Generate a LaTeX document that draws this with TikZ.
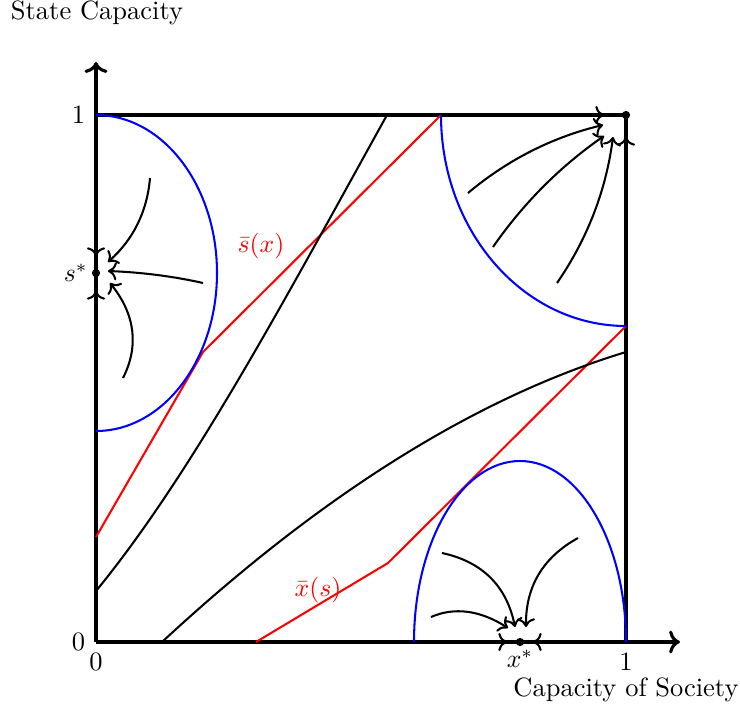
\documentclass[tikz,border=0pt]{standalone}
\usetikzlibrary{arrows.meta}
\begin{document}
\begin{tikzpicture}[x=0.389pt,y=0.389pt,
  font=\fontsize{10.3pt}{12.4pt}\selectfont,
  axisline/.style={very thick},
  curveline/.style={thick},
  flow/.style={thick,->},
  redline/.style={thick,red},
  blueline/.style={thick,blue},
  dotmark/.style={fill=black},
  lbl/.style={inner sep=2pt}]
\useasboundingbox (0,0) rectangle (740,713);
% key points
\coordinate (O) at (96,71);
\coordinate (Ytop) at (96,651);
\coordinate (Xend) at (680,71);
\coordinate (Y1) at (96,598);
\coordinate (X1) at (626,71);
\coordinate (C11) at (626,598);
\coordinate (Sstar) at (96,440);
\coordinate (Xstar) at (520,71);
% axes and box
\draw[axisline,->] (O) -- (Ytop);
\draw[axisline,->] (O) -- (Xend);
\draw[axisline] (Y1) -- (C11) -- (X1);
% red lines
\draw[redline] (96,176) -- (203,361) -- (441,598);
\draw[redline] (256,71) -- (388,150) -- (626,387);
% black curves
\draw[curveline] (96,122) .. controls (192,239) and (285,414) .. (387,598);
\draw[curveline] (162,71) .. controls (321.5,218.8) and (476.2,315.5) .. (626,361);
% blue arcs
\draw[blueline] (Y1) arc[start angle=90,end angle=-90,x radius=121,y radius=158];
\draw[blueline] (441,598) arc[start angle=180,end angle=270,x radius=185,y radius=211];
\draw[blueline] (414,71) arc[start angle=180,end angle=0,x radius=106,y radius=181];
% arrow tips on axes
\draw[flow] (96,475) -- (96,457);
\draw[flow] (96,405) -- (96,422);
\draw[flow] (585,598) -- (604,598);
\draw[flow] (626,558) -- (626,576);
\draw[flow] (490,71) -- (507,71);
\draw[flow] (550,71) -- (533,71);
% flow arrows top right
\draw[flow] (468,520) .. controls (507.7,553.3) and (552.7,576) .. (603,588);
\draw[flow] (493,466) .. controls (523.3,509.7) and (560.3,546.7) .. (604,577);
\draw[flow] (557,430) .. controls (587.4,474.1) and (606.1,522.8) .. (613,576);
% flow arrows left
\draw[flow] (150,535) .. controls (147.2,501.4) and (133.2,473.4) .. (108,451);
\draw[flow] (203,430) .. controls (173.3,436.7) and (141.7,440.7) .. (108,442);
\draw[flow] (123,335) .. controls (139.3,367.3) and (135,399) .. (110,430);
% flow arrows bottom
\draw[flow] (442,160) .. controls (482.5,151.3) and (506.8,126.7) .. (515,86);
\draw[flow] (431,96) .. controls (454.7,106.3) and (480.3,102.7) .. (508,85);
\draw[flow] (578,175) .. controls (542.8,155.7) and (525.5,126.1) .. (526,86);
% dots
\fill[dotmark] (C11) circle (1.6pt);
\fill[dotmark] (Sstar) circle (1.6pt);
\fill[dotmark] (Xstar) circle (1.6pt);
% labels
\node[lbl,left] (l1y) at ([xshift=-2pt]Y1) {1};
\node[lbl,left] (l0y) at ([xshift=-2pt]O) {0};
\node[lbl,below] (l0x) at ([yshift=-2pt]O) {0};
\node[lbl,below] (l1x) at ([yshift=-2pt]X1) {1};
\node[lbl,below] (lxs) at ([yshift=-1pt]Xstar) {$x^*$};
\node[lbl,left] (lss) at ([xshift=-1pt]Sstar) {$s^*$};
\node (ylab) at (97,700) {State Capacity};
\node (xlab) at (626,23) {Capacity of Society};
\node[red] (sbar) at (261,467) {$\bar{s}(x)$};
\node[red] (xbar) at (318,123) {$\bar{x}(s)$};
\end{tikzpicture}
\end{document}
